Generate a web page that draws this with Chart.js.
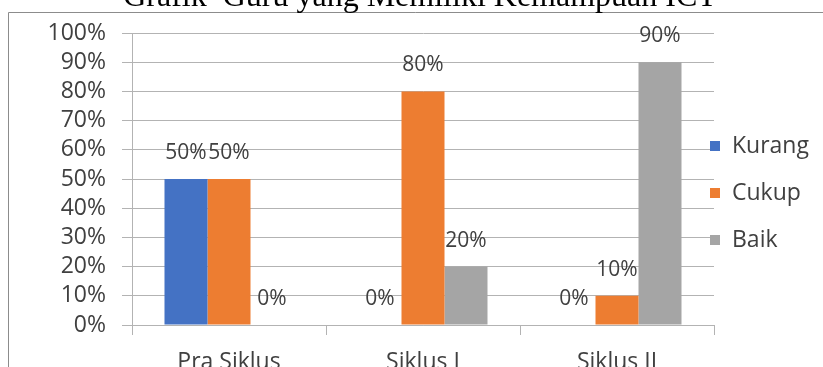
<!DOCTYPE html>
<html>
<head>
<meta charset="utf-8">
<script src="https://cdn.jsdelivr.net/npm/chart.js@4/dist/chart.umd.min.js"></script>
<style>
  html, body { margin: 0; padding: 0; background: #fff; }
  #wrap { width: 823px; height: 367px; }
</style>
</head>
<body>
<div id="wrap"><canvas id="ictChart" width="823" height="367"></canvas></div>
<script>
// chart data
const chartTitle = "Grafik  Guru yang Memiliki Kemampuan ICT";
const categories = ["Pra Siklus", "Siklus I", "Siklus II"];
const kurang = [50, 0, 0];
const cukup = [50, 80, 10];
const baik = [0, 20, 90];
const yTicks = [0, 10, 20, 30, 40, 50, 60, 70, 80, 90, 100];

const labelFont = "'Open Sans', 'Noto Sans', sans-serif";
const textColor = "#404040";
const lineColor = "#b3b3b3";

// white background + the cut-off frame and title
const framePlugin = {
    id: "frame",
    beforeDraw(chart) {
        const ctx = chart.ctx;
        ctx.save();
        ctx.fillStyle = "#fff";
        ctx.fillRect(0, 0, chart.width, chart.height);
        ctx.strokeStyle = "#8c8c8c";
        ctx.lineWidth = 1;
        ctx.beginPath();
        ctx.moveTo(8.5, chart.height);
        ctx.lineTo(8.5, 12.5);
        ctx.lineTo(chart.width, 12.5);
        ctx.stroke();

        ctx.fillStyle = "#000";
        ctx.font = "32px 'Liberation Serif', 'Times New Roman', serif";
        ctx.textAlign = "center";
        ctx.textBaseline = "alphabetic";
        ctx.fillText(chartTitle, 420, 6);
        ctx.restore();
    }
};

// value labels above each bar
const valueLabels = {
    id: "valueLabels",
    afterDatasetsDraw(chart) {
        const ctx = chart.ctx;
        ctx.save();
        ctx.font = "21px " + labelFont;
        ctx.fillStyle = textColor;
        ctx.textAlign = "center";
        ctx.textBaseline = "middle";
        chart.data.datasets.forEach((ds, i) => {
            chart.getDatasetMeta(i).data.forEach((bar, j) => {
                ctx.fillText(ds.data[j] + "%", bar.x, bar.y - 26);
            });
        });
        ctx.restore();
    }
};

// legend on the right, Excel style
const sideLegend = {
    id: "sideLegend",
    afterDraw(chart) {
        const ctx = chart.ctx;
        ctx.save();
        ctx.font = "23px " + labelFont;
        ctx.textAlign = "left";
        ctx.textBaseline = "middle";
        chart.data.datasets.forEach((ds, i) => {
            const cy = 146 + i * 47;
            ctx.fillStyle = ds.backgroundColor;
            ctx.fillRect(710, cy - 5, 10, 10);
            ctx.fillStyle = textColor;
            ctx.fillText(ds.label, 732, cy);
        });
        ctx.restore();
    }
};

const data = {
    labels: categories,
    datasets: [
        { label: "Kurang", data: kurang, backgroundColor: "#4472c4" },
        { label: "Cukup", data: cukup, backgroundColor: "#ed7d31" },
        { label: "Baik", data: baik, backgroundColor: "#a5a5a5" }
    ]
};

const config = {
    type: "bar",
    data: data,
    options: {
        responsive: false,
        animation: false,
        layout: { padding: { top: 33, right: 109, bottom: 0, left: 0 } },
        datasets: { bar: { categoryPercentage: 0.665, barPercentage: 1 } },
        plugins: {
            legend: { display: false },
            title: { display: false },
            tooltip: { enabled: false }
        },
        scales: {
            x: {
                offset: true,
                grid: {
                    offset: true,
                    drawOnChartArea: false,
                    drawTicks: true,
                    tickLength: 10,
                    color: lineColor
                },
                border: { color: lineColor },
                ticks: {
                    color: textColor,
                    font: { family: labelFont, size: 23 },
                    padding: 14,
                    maxRotation: 0
                },
                afterFit(scale) { scale.height = 42; }
            },
            y: {
                min: 0,
                max: 100,
                afterBuildTicks(scale) { scale.ticks = yTicks.map(v => ({ value: v })); },
                grid: { color: lineColor, tickLength: 10 },
                border: { color: lineColor },
                ticks: {
                    color: textColor,
                    font: { family: labelFont, size: 23 },
                    padding: 16,
                    autoSkip: false,
                    callback: v => v + "%"
                },
                afterFit(scale) { scale.width = 132; }
            }
        }
    },
    plugins: [framePlugin, valueLabels, sideLegend]
};

new Chart(document.getElementById("ictChart").getContext("2d"), config);
</script>
</body>
</html>
